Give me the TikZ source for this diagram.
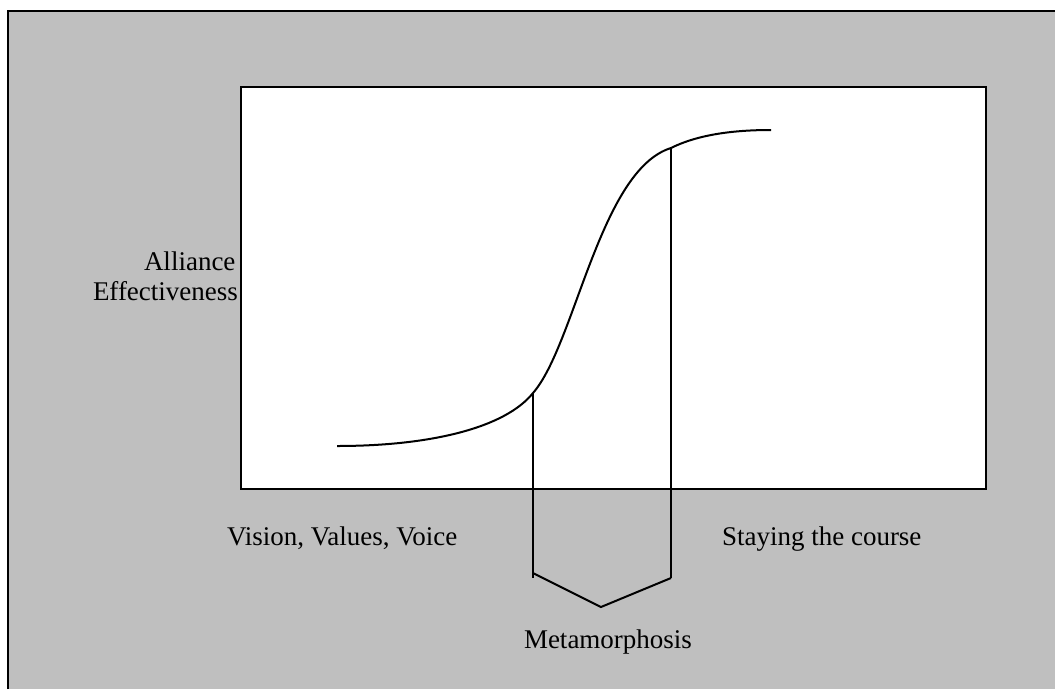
\documentclass[tikz,border=0pt]{standalone}
\usepackage{fontspec}
\setmainfont{Liberation Serif}
\usepackage{tikz}
\usetikzlibrary{positioning}

\begin{document}
\begin{tikzpicture}[x = 1pt, y = -1pt, line width = 2pt,
                    label/.style = {anchor = base west,
                                    inner sep = 0pt,
                                    font = \fontsize{27}{32}\selectfont}]

\useasboundingbox (0,0) rectangle (1055,689);

% background and plot area
\fill[black!25] (8,11) rectangle (1055,689);
\draw[line width = 2.5pt] (8,689) -- (8,11) -- (1055,11);
\draw[fill = white, line width = 2.5pt] (241,87) rectangle (986,489);

% curve points
\coordinate (start) at (337,446);
\coordinate (low)   at (533,393);
\coordinate (high)  at (671,148);
\coordinate (stop)  at (771,130);

% brace points
\coordinate (lowfoot)  at (533,578);
\coordinate (lowbend)  at (533,573);
\coordinate (tip)      at (601,607);
\coordinate (highfoot) at (671,578);

\draw (start) .. controls (430,446) and (505,428) .. (low)
              .. controls (575,345) and (600,170) .. (high)
              .. controls (701,133) and (740,130) .. (stop);

\draw (low) -- (lowfoot);
\draw (high) -- (highfoot);
\draw (lowbend) -- (tip) -- (highfoot);

\node[label] (alliance) at (143,270) {Alliance};
\node[label] (effect)   at (92,300) {Effectiveness};
\node[label] (vision)   at (226,545) {Vision, Values, Voice};
\node[label] (staying)  at (721,545) {Staying the course};
\node[label] (meta)     at (523,648) {Metamorphosis};

\end{tikzpicture}
\end{document}
